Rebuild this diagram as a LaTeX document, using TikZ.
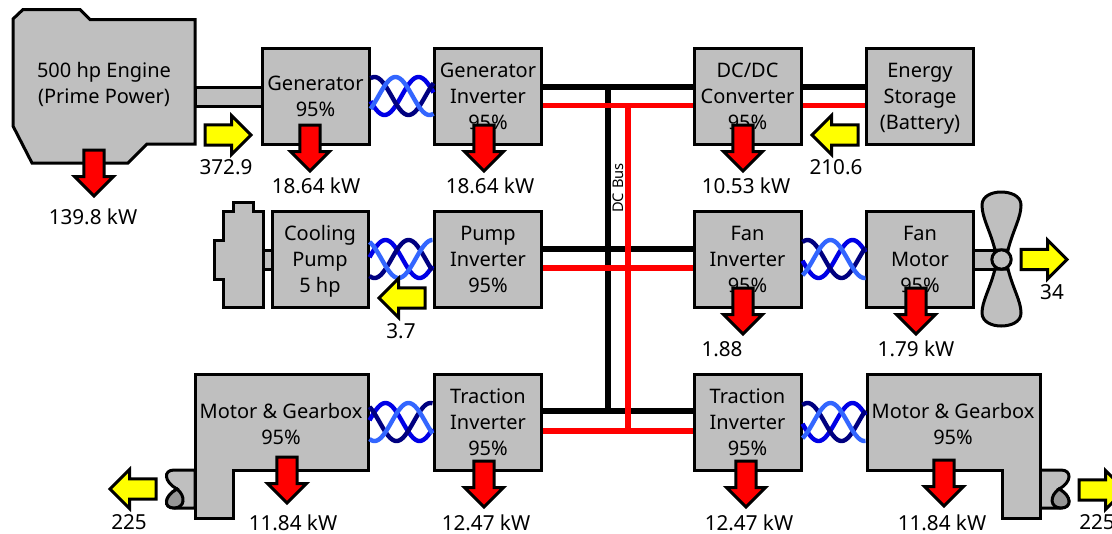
\documentclass[tikz,border=0pt]{standalone}
\usepackage{fontspec}
\setmainfont{Noto Sans}
\usepackage{xcolor}
\definecolor{unitGray}{HTML}{BFBFBF}
\definecolor{lensGray}{HTML}{969696}
\definecolor{lossRed}{HTML}{FF0000}
\definecolor{flowYellow}{HTML}{FFFF00}
\definecolor{wireNavy}{HTML}{000080}
\definecolor{wireBlue}{HTML}{0000E6}
\definecolor{wireLight}{HTML}{3366FF}
\usetikzlibrary{shapes.arrows}
\tikzset{
  unit/.style={rectangle, draw, line width=2.25pt, fill=unitGray, inner sep=0pt, align=center,
    minimum width=#1*0.75pt, minimum height=72pt, text depth=0pt, font=\fontsize{15}{19.5}\selectfont,
    execute at begin node={\rule{0pt}{14.5pt}}},
  unit/.default=107,
  hull/.style={draw, line width=2.25pt, fill=unitGray, line join=miter},
  caption/.style={inner sep=0pt, align=center, font=\fontsize{15}{19.5}\selectfont},
  reading/.style={inner sep=0pt, font=\fontsize{15.5}{16}\selectfont},
  flow/.style={single arrow, draw, line width=2.25pt, outer sep=0pt, anchor=tip,
    minimum width=27pt, minimum height=34.5pt, single arrow head extend=7pt,
    single arrow head indent=0pt, shape border rotate=#1},
  loss/.style={flow=270, fill=lossRed, inner xsep=6.5pt, inner ysep=0pt},
  power/.style={flow=#1, fill=flowYellow, inner xsep=0pt, inner ysep=6.5pt},
  busBlack/.style={black, line width=3.9pt},
  busRed/.style={lossRed, line width=3.9pt},
  wire/.style={line width=3.3pt}
}
\newcommand{\twistPair}[4]{
  \begin{scope}[shift={(#1)}]
    \draw[wire, wireBlue] plot[domain=0:63, samples=50] (\x, {19*cos((\x-#2)/68*360)});
    \draw[wire, wireNavy] plot[domain=0:63, samples=50] (\x, {19*cos((\x-#3)/68*360)});
    \draw[wire, wireLight] plot[domain=0:63, samples=50] (\x, {19*cos((\x-#4)/68*360)});
  \end{scope}
}
\begin{document}
\begin{tikzpicture}[x=0.75pt, y=-0.75pt]
  \useasboundingbox (0,0) rectangle (1112,533);
  \fill[white] (0,0) rectangle (1112,533);
  % mechanical parts
  \draw[hull] (195,87) rectangle (262,106);
  \draw[hull] (263,250) rectangle (272,269);
  \draw[hull] (973,250) rectangle (1000,269);
  \draw[hull] (13,19) -- (23,9.5) -- (80,9.5) -- (90,19.5) -- (195,19.5) -- (195,144) -- (147,144)
    -- (128,163) -- (32,163) -- (13,126) -- cycle;
  \draw[hull] (223,211) -- (233,211) -- (233,202) -- (253,202) -- (253,211) -- (263,211) -- (263,307)
    -- (223,307) -- (223,279) -- (214,279) -- (214,240) -- (223,240) -- cycle;
  \draw[hull] (195,470) -- (174,470) .. controls (163,470) and (164,482) .. (177,489)
    .. controls (164,496) and (163,508) .. (174,508) -- (195,508) -- cycle;
  \draw[hull, fill=lensGray] (177,489) .. controls (164,496) and (163,508) .. (174,508)
    .. controls (185,508) and (186,496) .. (177,489) -- cycle;
  \draw[hull] (1040,470) -- (1061,470) .. controls (1072,470) and (1072,482) .. (1059,489)
    .. controls (1072,496) and (1072,508) .. (1061,508) -- (1040,508) -- cycle;
  \draw[hull, fill=lensGray] (1059,489) .. controls (1072,496) and (1072,508) .. (1061,508)
    .. controls (1050,508) and (1049,496) .. (1059,489) -- cycle;
  \draw[hull] (195,374) -- (368,374) -- (368,470) -- (233,470) -- (233,518) -- (195,518) -- cycle;
  \draw[hull] (867,374) -- (1040,374) -- (1040,518) -- (1002,518) -- (1002,470) -- (867,470) -- cycle;
  \draw[hull] (995,250) .. controls (990,230) and (982,218) .. (982,205)
    .. controls (982,196) and (992,192) .. (1001,192) .. controls (1011,192) and (1021,196) .. (1021,205)
    .. controls (1021,218) and (1013,230) .. (1008,250) -- cycle;
  \draw[hull] (995,269) .. controls (990,289) and (982,301) .. (982,313)
    .. controls (982,322) and (992,326) .. (1001,326) .. controls (1011,326) and (1021,322) .. (1021,313)
    .. controls (1021,301) and (1013,289) .. (1008,269) -- cycle;
  \node[circle, draw, line width=2.25pt, fill=unitGray, inner sep=0pt, minimum size=14.5pt] (hub) at (1001.5,259.5) {};
  % power units
  \node[unit] (gen) at (315.5,96) {Generator\\95\%};
  \node[unit] (genInv) at (488,96) {Generator\\Inverter\\95\%};
  \node[unit] (dcdc) at (747.5,96) {DC/DC\\Converter\\95\%};
  \node[unit] (storage) at (920,96) {Energy\\Storage\\(Battery)};
  \node[unit=96] (pump) at (320,259) {Cooling\\Pump\\5 hp};
  \node[unit] (pumpInv) at (488,259) {Pump\\Inverter\\95\%};
  \node[unit] (fanInv) at (747.5,259) {Fan\\Inverter\\95\%};
  \node[unit] (fanMotor) at (920,259) {Fan\\Motor\\95\%};
  \node[unit] (tracInvL) at (488,422) {Traction\\Inverter\\95\%};
  \node[unit] (tracInvR) at (747.5,422) {Traction\\Inverter\\95\%};
  \coordinate (motorL) at (369.5,422);
  \node[caption] (engine) at (104,84) {500 hp Engine\\(Prime Power)};
  \node[caption] (gearL) at (281,424) {Motor \& Gearbox\\95\%};
  \node[caption] (gearR) at (953,424) {Motor \& Gearbox\\95\%};
  % three phase cables
  \twistPair{gen.east}{14}{38}{59}
  \twistPair{pump.east}{50}{5}{29}
  \twistPair{fanInv.east}{16}{39}{62}
  \twistPair{motorL}{50}{27}{5}
  \twistPair{tracInvR.east}{16}{39}{62}
  % dc bus
  \coordinate (blackTop) at (608,87);
  \coordinate (blackEnd) at (608,411);
  \coordinate (redTop) at (628,105);
  \coordinate (redEnd) at (628,432);
  \draw[busBlack] ([yshift=6.75pt]genInv.east) -- ([yshift=6.75pt]dcdc.west);
  \draw[busBlack] ([yshift=6.75pt]dcdc.east) -- ([yshift=6.75pt]storage.west);
  \draw[busBlack] ([yshift=7.5pt]pumpInv.east) -- ([yshift=7.5pt]fanInv.west);
  \draw[busBlack] ([yshift=8.25pt]tracInvL.east) -- ([yshift=8.25pt]tracInvR.west);
  \draw[busBlack] (blackTop) -- (blackEnd);
  \draw[busRed] ([yshift=-7pt]genInv.east) -- ([yshift=-7pt]dcdc.west);
  \draw[busRed] ([yshift=-7pt]dcdc.east) -- ([yshift=-7pt]storage.west);
  \draw[busRed] ([yshift=-6.75pt]pumpInv.east) -- ([yshift=-6.75pt]fanInv.west);
  \draw[busRed] ([yshift=-6.75pt]tracInvL.east) -- ([yshift=-6.75pt]tracInvR.west);
  \draw[busRed] (redTop) -- (redEnd);
  \node[rotate=90, inner sep=0pt, font=\fontsize{11}{12}\selectfont] (busName) at (618,188) {DC Bus};
  % heat losses
  \node[loss] (lossEngine) at (94,196) {};
  \node[loss] (lossGen) at (310,171) {};
  \node[loss] (lossGenInv) at (484,171) {};
  \node[loss] (lossDcdc) at (743,171) {};
  \node[loss] (lossFanInv) at (743,334) {};
  \node[loss] (lossFanMotor) at (916,334) {};
  \node[loss] (lossGearL) at (287,503) {};
  \node[loss] (lossTracL) at (484,507) {};
  \node[loss] (lossTracR) at (746,507) {};
  \node[loss] (lossGearR) at (944,506) {};
  \node[reading] (txtEngine) at (93,217) {139.8 kW};
  \node[reading] (txtGen) at (316,186) {18.64 kW};
  \node[reading] (txtGenInv) at (490,186) {18.64 kW};
  \node[reading] (txtDcdc) at (746,186) {10.53 kW};
  \node[reading] (txtFanInv) at (722,349) {1.88};
  \node[reading] (txtFanMotor) at (916,349) {1.79 kW};
  \node[reading] (txtGearL) at (293,523) {11.84 kW};
  \node[reading] (txtTracL) at (486,523) {12.47 kW};
  \node[reading] (txtTracR) at (749,523) {12.47 kW};
  \node[reading] (txtGearR) at (942,523) {11.84 kW};
  % shaft power
  \node[power=0] (flowGen) at (251,135) {};
  \node[power=180] (flowStorage) at (812,135) {};
  \node[power=180] (flowPump) at (379,298) {};
  \node[power=0] (flowFan) at (1067,259.5) {};
  \node[power=180] (flowGearL) at (110,489) {};
  \node[power=0] (flowGearR) at (1125,490) {};
  \node[reading] (txtFlowGen) at (226,167) {372.9};
  \node[reading] (txtFlowStorage) at (836,167) {210.6};
  \node[reading] (txtFlowPump) at (401,331) {3.7};
  \node[reading] (txtFlowFan) at (1052,292) {34};
  \node[reading] (txtFlowL) at (129,522) {225};
  \node[reading] (txtFlowR) at (1097,522) {225};
\end{tikzpicture}
\end{document}
